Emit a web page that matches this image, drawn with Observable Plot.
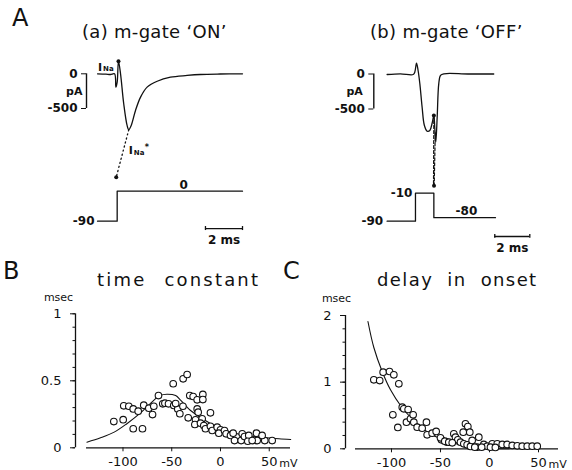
<!DOCTYPE html>
<html>
<head>
<meta charset="utf-8">
<script src="https://cdn.jsdelivr.net/npm/d3@7"></script>
<script src="https://cdn.jsdelivr.net/npm/@observablehq/plot@0.6"></script>
<style>
  html, body { margin: 0; padding: 0; background: #fff; }
  #fig { position: relative; width: 572px; height: 470px; overflow: hidden; font-family: "DejaVu Sans", sans-serif; color: #111; }
  #fig svg { position: absolute; left: 0; top: 0; }
  .lbl { position: absolute; white-space: nowrap; line-height: 1; color: #111; }
</style>
</head>
<body>
<div id="fig">
  <div class="lbl" style="left:12px;top:6px;font-size:24px">A</div>
  <div class="lbl" style="left:82px;top:23px;font-size:18px;letter-spacing:0.3px">(a) m-gate ‘ON’</div>
  <div class="lbl" style="left:370px;top:23px;font-size:18px;letter-spacing:0.3px">(b) m-gate ‘OFF’</div>
  <div class="lbl" style="left:3px;top:259px;font-size:24px">B</div>
  <div class="lbl" style="left:283px;top:259px;font-size:24px">C</div>
  <div class="lbl" style="left:97px;top:271px;font-size:18px;letter-spacing:2.2px;word-spacing:10px">time constant</div>
  <div class="lbl" style="left:377px;top:271px;font-size:18px;letter-spacing:1.4px;word-spacing:7px">delay in onset</div>
</div>
<script>
// ---------------- Panel A(a): m-gate 'ON' ----------------
const onT = [-1.05,-0.6,-0.36,-0.14,-0.07,0,0.07,0.18,0.35,0.53,0.62,0.75,0.98,1.25,1.6,2.14,2.85,3.74,4.45,5.5,6.7];
const onI = [0,-5,-10,0,-192,-120,181,0,-432,-744,-806,-744,-528,-336,-192,-107,-49,-24,-10,-3,0];
const onDotT = [0.07, -0.05];
const onDotI = [181, -1489];
const onExtrapT = [0.62, -0.05];
const onExtrapI = [-806, -1489];
const onVT = [-1.05, 0, 0, 6.7];
const onV  = [-90, -90, 0, 0];

// ---------------- Panel A(b): m-gate 'OFF' ----------------
const offT = [-1.62,-0.86,-0.13,-0.04,0.06,0.15,0.25,0.38,0.51,0.67,0.82,0.95,1.05,1.1,1.16,1.24,1.33,1.43,1.62,3,4.47];
const offI = [-7,3,-7,26,155,50,-140,-475,-736,-818,-808,-703,-593,-760,-975,-618,-140,-21,3,0,0];
const offDotT = [1.05, 1.06];
const offDotI = [-593, -1595];
const offExtrap1T = [1.05, 1.03];
const offExtrap1I = [-593, -1600];
const offExtrap2T = [1.13, 1.07];
const offExtrap2I = [-840, -1600];
const offVT = [-1.62, 0, 0, 1.05, 1.05, 4.57];
const offV  = [-90, -90, -10, -10, -80, -80];

// scale bars
const pAScale = [-500, 0];
const timeBarA = [4.72, 6.7];
const timeBarB = [4.53, 6.53];

// ---------------- Panel B: time constant ----------------
const bMV  = [-109.4,-99.8,-99.2,-94,-89.5,-84.4,-78.7,-73.5,-68.4,-69.7,-89.5,-80,-63.6,-59.2,-57,-53.3,-48.5,-47.9,-43.8,-41.7,-38.3,-34.2,-31.5,-28,-23.9,-18.1,-18.1,-23.9,-22.9,-33.1,-10.3,-25.6,-26.3,-18.8,-20.5,-17.1,-15.4,-10.3,-8.5,-3.4,0,-1.7,4.1,5.8,10.3,14.4,13,22.3,21.2,24.6,29,28,36.9,37.6,45.4,53,32.5,-46,-38.5,42.7];
const bTau = [0.196,0.21,0.313,0.31,0.29,0.273,0.318,0.296,0.31,0.248,0.142,0.142,0.39,0.328,0.333,0.328,0.478,0.316,0.29,0.254,0.515,0.547,0.39,0.383,0.358,0.398,0.36,0.29,0.266,0.224,0.261,0.209,0.174,0.216,0.184,0.166,0.142,0.161,0.129,0.154,0.134,0.109,0.129,0.104,0.092,0.054,0.109,0.104,0.054,0.084,0.092,0.049,0.109,0.054,0.054,0.054,0.054,0.33,0.31,0.092];
const bFitMV  = [-137,-123,-109,-96,-82,-72,-62,-55,-46,-41,-31,-20,-10,0,10,20,30,40,50,60,72];
const bFitTau = [0.042,0.075,0.117,0.18,0.26,0.33,0.39,0.40,0.39,0.355,0.28,0.224,0.18,0.142,0.118,0.10,0.088,0.08,0.073,0.067,0.062];

// ---------------- Panel C: delay in onset ----------------
const cMV = [-118,-112,-108.5,-102,-97.6,-92.5,-98.6,-93.5,-89,-87.4,-83,-84.7,-80.6,-77.9,-77.2,-73.8,-68.7,-64.3,-63.6,-58.5,-54.4,-49,-43.2,-50,-45.6,-41.5,-36.4,-34.7,-32.3,-29.6,-26.2,-24.5,-22.1,-26.8,-20.1,-22.8,-19.4,-10.9,-12.6,-5.8,-2.3,2.8,7.9,13,18,23.2,28.3,33.4,38.5,43.6,48.7,1,6,-8,-15,-38,-17.7];
const cDelay = [1.035,1.024,1.15,1.16,1.11,0.975,0.51,0.32,0.625,0.6,0.59,0.4,0.45,0.51,0.4,0.324,0.31,0.4,0.21,0.234,0.26,0.135,0.1,0.165,0.114,0.1,0.225,0.174,0.135,0.1,0.075,0.375,0.334,0.25,0.25,0.06,0.035,0.174,0.025,0.065,0.04,0.075,0.075,0.065,0.065,0.05,0.045,0.04,0.04,0.04,0.04,0.025,0.02,0.025,0.025,0.09,0.125];
const cFitMV    = [-124,-118,-109.5,-101,-90,-79,-64,-50,-43,-35,-25,-15,0,20];
const cFitDelay = [1.91,1.52,1.16,0.885,0.635,0.45,0.26,0.15,0.12,0.08,0.04,0.015,0.004,0];

// tick labels
const bYTicks = [0, 0.5, 1];
const cYTicks = [0, 1, 2];
const xTicks = [-100, -50, 0, 50];

// ---------------- drawing ----------------
const W = 572, H = 470;
const fig = document.getElementById("fig");
const zip2 = (a, b, ka, kb) => a.map((v, i) => ({[ka]: v, [kb]: b[i]}));
const FONT = "DejaVu Sans, sans-serif";

function panel({left, right, top, bottom, x, y, marks}) {
  const svg = Plot.plot({
    width: W, height: H,
    marginLeft: left, marginRight: W - right, marginTop: top, marginBottom: H - bottom,
    x: {domain: x, axis: null},
    y: {domain: y, axis: null},
    style: {background: "transparent", overflow: "visible", fontFamily: FONT, fontSize: "12px", color: "#111"},
    marks
  });
  fig.appendChild(svg);
}

// A(a) current
const aDom = [-1.64, 6.7];
panel({
  left: 86, right: 242, top: 73.3, bottom: 108, x: aDom, y: pAScale,
  marks: [
    Plot.axisY({ticks: pAScale, anchor: "left", tickSize: 5, tickPadding: 4, fontSize: 12, fontWeight: "bold", tickFormat: d => String(d), label: null}),
    Plot.ruleX([aDom[0]], {y1: pAScale[0], y2: pAScale[1], strokeWidth: 1.4}),
    Plot.text(["pA"], {x: aDom[0], y: -250, dx: -4, textAnchor: "end", fontSize: 11, fontWeight: "bold"}),
    Plot.line(zip2(onExtrapT, onExtrapI, "t", "i"), {x: "t", y: "i", strokeDasharray: "1.2,3", strokeWidth: 1.3}),
    Plot.line(zip2(onT, onI, "t", "i"), {x: "t", y: "i", curve: "catmull-rom", strokeWidth: 1.3}),
    Plot.dot(zip2(onDotT, onDotI, "t", "i"), {x: "t", y: "i", r: 2, fill: "#111"}),
    Plot.text(["I"], {x: -1.02, y: 95, textAnchor: "start", fontSize: 11, fontWeight: "bold"}),
    Plot.text(["Na"], {x: -1.02, y: 95, dx: 5, dy: 2, textAnchor: "start", fontSize: 7, fontWeight: "bold"}),
    Plot.text(["I"], {x: 0.62, y: -1105, textAnchor: "start", fontSize: 11, fontWeight: "bold"}),
    Plot.text(["Na"], {x: 0.62, y: -1105, dx: 5, dy: 2, textAnchor: "start", fontSize: 7, fontWeight: "bold"}),
    Plot.text(["*"], {x: 0.62, y: -1105, dx: 16, dy: -3, textAnchor: "start", fontSize: 8, fontWeight: "bold"})
  ]
});
// A(a) voltage
panel({
  left: 86, right: 242, top: 190.7, bottom: 220.7, x: aDom, y: [-90, 0],
  marks: [
    Plot.line(zip2(onVT, onV, "t", "v"), {x: "t", y: "v", strokeWidth: 1.3}),
    Plot.text(["-90"], {x: onVT[0], y: -90, dx: -3, textAnchor: "end", fontSize: 12, fontWeight: "bold"}),
    Plot.text(["0"], {x: 3.55, y: 0, dy: -6, fontSize: 12, fontWeight: "bold"}),
    Plot.ruleY([-112], {x1: timeBarA[0], x2: timeBarA[1], strokeWidth: 1.3}),
    Plot.ruleX(timeBarA, {x: d => d, y1: -106, y2: -118, strokeWidth: 1.3}),
    Plot.text(["2 ms"], {x: (timeBarA[0] + timeBarA[1]) / 2, y: -148, fontSize: 12, fontWeight: "bold"})
  ]
});

// A(b) current
const bDomT = [-2.38, 6.53];
panel({
  left: 373.3, right: 529.3, top: 73.5, bottom: 108.5, x: bDomT, y: pAScale,
  marks: [
    Plot.axisY({ticks: pAScale, anchor: "left", tickSize: 5, tickPadding: 4, fontSize: 12, fontWeight: "bold", tickFormat: d => String(d), label: null}),
    Plot.ruleX([bDomT[0]], {y1: pAScale[0], y2: pAScale[1], strokeWidth: 1.4}),
    Plot.text(["pA"], {x: bDomT[0], y: -250, dx: -11, textAnchor: "end", fontSize: 11, fontWeight: "bold"}),
    Plot.line(zip2(offExtrap1T, offExtrap1I, "t", "i"), {x: "t", y: "i", strokeDasharray: "3,2", strokeWidth: 1.2}),
    Plot.line(zip2(offExtrap2T, offExtrap2I, "t", "i"), {x: "t", y: "i", strokeDasharray: "3,2", strokeWidth: 1.2}),
    Plot.line(zip2(offT, offI, "t", "i"), {x: "t", y: "i", curve: "catmull-rom", strokeWidth: 1.3}),
    Plot.dot(zip2(offDotT, offDotI, "t", "i"), {x: "t", y: "i", r: 2, fill: "#111"})
  ]
});
// A(b) voltage
panel({
  left: 373.3, right: 529.3, top: 192.7, bottom: 220.7, x: bDomT, y: [-90, -10],
  marks: [
    Plot.line(zip2(offVT, offV, "t", "v"), {x: "t", y: "v", strokeWidth: 1.3}),
    Plot.text(["-90"], {x: offVT[0], y: -90, dx: -4, textAnchor: "end", fontSize: 12, fontWeight: "bold"}),
    Plot.text(["-10"], {x: 0, y: -10, dx: -3, textAnchor: "end", fontSize: 12, fontWeight: "bold"}),
    Plot.text(["-80"], {x: 2.91, y: -80, dy: -7, fontSize: 12, fontWeight: "bold"}),
    Plot.ruleY([-133.7], {x1: timeBarB[0], x2: timeBarB[1], strokeWidth: 1.3}),
    Plot.ruleX(timeBarB, {x: d => d, y1: -128, y2: -139, strokeWidth: 1.3}),
    Plot.text(["2 ms"], {x: (timeBarB[0] + timeBarB[1]) / 2, y: -168, fontSize: 12, fontWeight: "bold"})
  ]
});

// B
const bDom = [-148.7, 71.8];
const bAxisExt = [-137.4, 71.8];
panel({
  left: 75, right: 290, top: 313.3, bottom: 447.3, x: bDom, y: [0, 1],
  marks: [
    Plot.axisY({ticks: d3.range(0, 1.001, 0.1), anchor: "left", tickSize: 2.5, tickFormat: () => "", label: null}),
    Plot.axisY({ticks: bYTicks, anchor: "left", tickSize: 5, tickPadding: 9, fontSize: 13, tickFormat: d => String(d), label: null}),
    Plot.ruleX([bDom[0]], {y1: 0, y2: 1, strokeWidth: 1.3}),
    Plot.text(["msec"], {x: bDom[0], y: 1, dx: -17, dy: -16, fontSize: 11}),
    Plot.ruleY([0], {x1: bAxisExt[0], x2: bAxisExt[1], strokeWidth: 1.3}),
    Plot.axisX({ticks: xTicks, anchor: "bottom", tickSize: 4, tickPadding: 5, fontSize: 13, tickFormat: d => String(d), label: null}),
    Plot.text(["mV"], {x: 50, y: 0, dx: 10, dy: 16, textAnchor: "start", fontSize: 11}),
    Plot.line(zip2(bFitMV, bFitTau, "v", "tau"), {x: "v", y: "tau", curve: "catmull-rom", strokeWidth: 1.1}),
    Plot.dot(zip2(bMV, bTau, "v", "tau"), {x: "v", y: "tau", r: 3.3, stroke: "#111", fill: "white", strokeWidth: 1.1})
  ]
});

// C
const cDom = [-146.9, 70.4];
const cAxisExt = [-136.7, 70.4];
panel({
  left: 345, right: 558, top: 315, bottom: 448.3, x: cDom, y: [0, 2],
  marks: [
    Plot.axisY({ticks: d3.range(0, 2.001, 0.2), anchor: "left", tickSize: 2.5, tickFormat: () => "", label: null}),
    Plot.axisY({ticks: cYTicks, anchor: "left", tickSize: 5, tickPadding: 9, fontSize: 13, tickFormat: d => String(d), label: null}),
    Plot.ruleX([cDom[0]], {y1: 0, y2: 2, strokeWidth: 1.3}),
    Plot.text(["msec"], {x: cDom[0], y: 2, dx: -9, dy: -17, fontSize: 11}),
    Plot.ruleY([0], {x1: cAxisExt[0], x2: cAxisExt[1], strokeWidth: 1.3}),
    Plot.axisX({ticks: xTicks, anchor: "bottom", tickSize: 4, tickPadding: 5, fontSize: 13, tickFormat: d => String(d), label: null}),
    Plot.text(["mV"], {x: 50, y: 0, dx: 10, dy: 16, textAnchor: "start", fontSize: 11}),
    Plot.line(zip2(cFitMV, cFitDelay, "v", "d"), {x: "v", y: "d", curve: "catmull-rom", strokeWidth: 1.1}),
    Plot.dot(zip2(cMV, cDelay, "v", "d"), {x: "v", y: "d", r: 3.3, stroke: "#111", fill: "white", strokeWidth: 1.1})
  ]
});
</script>
</body>
</html>
